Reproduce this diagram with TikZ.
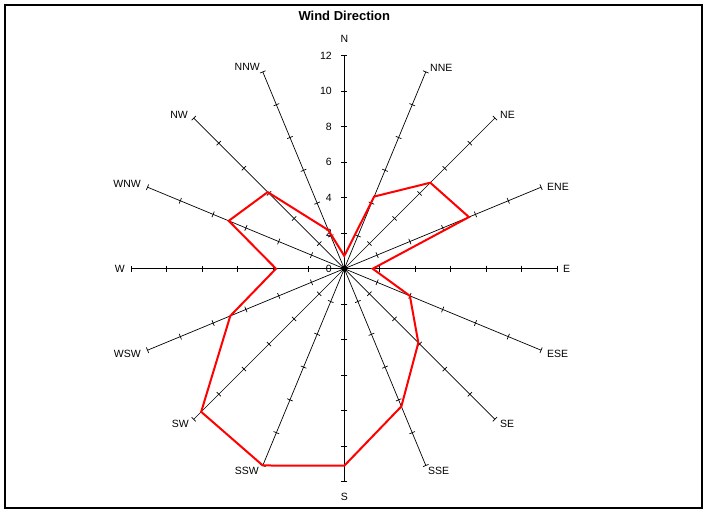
\documentclass[tikz,border=0pt]{standalone}
\usepackage{fontspec}
\setmainfont{Liberation Sans}
\usetikzlibrary{calc}
\begin{document}
\begin{tikzpicture}[x=1pt,y=1pt,
  lbl/.style={font=\fontsize{10.5}{12}\selectfont, inner sep=0pt},
  mainaxis/.style={line width=1.5pt},
  diagaxis/.style={line width=0.7pt},
  tickmark/.style={line width=0.7pt},
  datapoly/.style={red, line width=2pt, line join=miter}]
\fill[white] (0,0) rectangle (705,512);
\useasboundingbox (0,0) rectangle (705,512);
\draw[line width=1.2pt] (5,4) rectangle (702,507);
\node[font=\bfseries\fontsize{13}{15}\selectfont, inner sep=0pt] (title) at (344.3,496) {Wind Direction};
\coordinate (c) at (344.3,243.3);
\foreach \i/\st in {0/mainaxis,1/diagaxis,2/diagaxis,3/diagaxis,4/mainaxis,5/diagaxis,6/diagaxis,7/diagaxis,8/mainaxis,9/diagaxis,10/diagaxis,11/diagaxis,12/mainaxis,13/diagaxis,14/diagaxis,15/diagaxis} {
  \pgfmathsetmacro\ang{90-22.5*\i}
  \coordinate (ax\i) at ($(c)+(\ang:213)$);
  \draw[\st] (c) -- (ax\i);
  \foreach \k in {1,...,6} {
    \draw[tickmark] ($(c)+(\ang:35.5*\k)$) ++(\ang+90:3) -- ++(\ang-90:6);
  }
}
% tick labels on N axis
\foreach \k in {0,...,6} {
  \pgfmathtruncatemacro\v{2*\k}
  \node[lbl, anchor=east] (t\k) at (332,243.3+35.5*\k) {\v};
}
% direction labels
\node[lbl] (lN) at (344.3,473) {N};
\node[lbl] (lS) at (344.3,15) {S};
\node[lbl, anchor=west] (lE) at (563,243.3) {E};
\node[lbl, anchor=east] (lW) at (125,243.3) {W};
\node[lbl, anchor=west] (lNNE) at (430,444.3) {NNE};
\node[lbl, anchor=west] (lNE) at (500,397) {NE};
\node[lbl, anchor=west] (lENE) at (547,325) {ENE};
\node[lbl, anchor=west] (lESE) at (547,158) {ESE};
\node[lbl, anchor=west] (lSE) at (500,88) {SE};
\node[lbl, anchor=west] (lSSE) at (428,41) {SSE};
\node[lbl, anchor=east] (lSSW) at (259,41) {SSW};
\node[lbl, anchor=east] (lSW) at (189,88) {SW};
\node[lbl, anchor=east] (lWSW) at (141,158) {WSW};
\node[lbl, anchor=east] (lWNW) at (141,328) {WNW};
\node[lbl, anchor=east] (lNW) at (188,397) {NW};
\node[lbl, anchor=east] (lNNW) at (260,445) {NNW};
% data
\begin{scope}[shift={(c)}]
\draw[datapoly] (90:12.8) -- (67.5:78.1) -- (45:121.6) -- (22.5:134.9) -- (0:28.4)
  -- (-22.5:71) -- (-45:104.7) -- (-67.5:149.1) -- (-90:197) -- (-112.5:213)
  -- (-135:202.4) -- (-157.5:123.4) -- (180:68.3) -- (157.5:125.1) -- (135:108.3)
  -- (112.5:41.7) -- cycle;
\end{scope}
\fill (c) circle (3);
\end{tikzpicture}
\end{document}
